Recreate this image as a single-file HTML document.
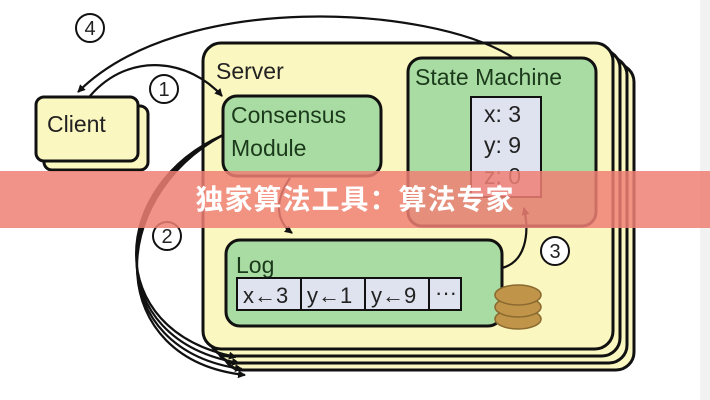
<!DOCTYPE html>
<html><head><meta charset="utf-8"><style>
body{margin:0;width:710px;height:400px;overflow:hidden;background:#fff;position:relative;font-family:"Liberation Sans",sans-serif}
svg{position:absolute;left:0;top:0}
.banner{position:absolute;left:0;top:171px;width:710px;height:57px;background:rgba(240,128,118,0.85);color:#fff;font:bold 28px "Liberation Sans","Noto Sans CJK SC",sans-serif;text-align:center;line-height:57px;letter-spacing:1px}
</style></head><body>
<svg width="710" height="400" viewBox="0 0 710 400" font-family="Liberation Sans, sans-serif">
<defs><marker id="a" markerWidth="8" markerHeight="8" refX="7" refY="4" orient="auto" markerUnits="userSpaceOnUse"><path d="M0,0L8,4L0,8z" fill="#111"/></marker></defs>
<rect x="700" y="0" width="10" height="400" fill="#f2f2f2"/>
<g stroke="#111" stroke-width="3" fill="#fbf7c0">
<rect x="224" y="64" width="410" height="306" rx="18"/>
<rect x="217" y="57" width="410" height="306" rx="18"/>
<rect x="210" y="50" width="410" height="306" rx="18"/>
<rect x="203" y="43" width="410" height="306" rx="18"/>
</g>
<text x="216" y="79" font-size="23" fill="#222">Server</text>
<g stroke="#111" stroke-width="3" fill="#fbf7c0">
<rect x="44" y="106" width="104" height="64" rx="8"/>
<rect x="36" y="97" width="102" height="64" rx="8"/>
</g>
<text x="47" y="132" font-size="23" fill="#222">Client</text>
<rect x="223" y="96" width="158" height="80" rx="14" fill="#a9dca2" stroke="#111" stroke-width="3"/>
<text x="231" y="123" font-size="23" fill="#1b3a1b">Consensus</text>
<text x="231" y="156" font-size="23" fill="#1b3a1b">Module</text>
<rect x="408" y="58" width="188" height="168" rx="14" fill="#a9dca2" stroke="#111" stroke-width="3"/>
<text x="415" y="85" font-size="23" fill="#1b3a1b">State Machine</text>
<rect x="471" y="97" width="70" height="100" fill="#dfe3ef" stroke="#111" stroke-width="2"/>
<text x="484" y="122" font-size="23" fill="#222">x: 3</text>
<text x="484" y="153" font-size="23" fill="#222">y: 9</text>
<text x="484" y="184" font-size="23" fill="#222">z: 0</text>
<rect x="226" y="240" width="276" height="86" rx="14" fill="#a9dca2" stroke="#111" stroke-width="3"/>
<text x="236" y="273" font-size="23" fill="#1b3a1b">Log</text>
<g fill="#dfe3ef" stroke="#111" stroke-width="2">
<rect x="237" y="278" width="64" height="32"/><rect x="301" y="278" width="64" height="32"/><rect x="365" y="278" width="64" height="32"/><rect x="429" y="278" width="32" height="32"/>
</g>
<g font-size="22" fill="#222"><text x="243" y="303">x←3</text><text x="307" y="303">y←1</text><text x="371" y="303">y←9</text><text x="435" y="300">···</text></g>
<g fill="#c0954a" stroke="#8a6a30" stroke-width="1.5">
<ellipse cx="518" cy="319" rx="23" ry="10"/><ellipse cx="518" cy="307" rx="23" ry="10"/><ellipse cx="518" cy="295" rx="23" ry="10"/>
</g>
<g fill="none" stroke="#111" stroke-width="2.2">
<path d="M512,57 C430,5 180,-10 78,92" marker-end="url(#a)"/>
<path d="M90,96 C130,50 190,60 222,96" marker-end="url(#a)"/>
<path d="M290,178 C275,200 275,220 292,233" marker-end="url(#a)"/>
<path d="M502,268 C525,262 530,235 524,208" marker-end="url(#a)"/>
<path d="M223,135 C110,185 100,330 236,357" marker-end="url(#a)"/>
<path d="M223,135 C108,190 102,340 239,363" marker-end="url(#a)"/>
<path d="M223,135 C106,195 104,350 242,369" marker-end="url(#a)"/>
<path d="M223,135 C104,200 106,360 245,375" marker-end="url(#a)"/>
</g>
<g fill="#fff" stroke="#111" stroke-width="2">
<circle cx="90" cy="28" r="14"/><circle cx="164" cy="89" r="14"/><circle cx="167" cy="236" r="14"/><circle cx="555" cy="251" r="14"/>
</g>
<g font-size="20" fill="#222" text-anchor="middle">
<text x="90" y="35">4</text><text x="164" y="96">1</text><text x="167" y="243">2</text><text x="555" y="258">3</text>
</g>
</svg>
<div class="banner">独家算法工具：算法专家</div>
</body></html>
